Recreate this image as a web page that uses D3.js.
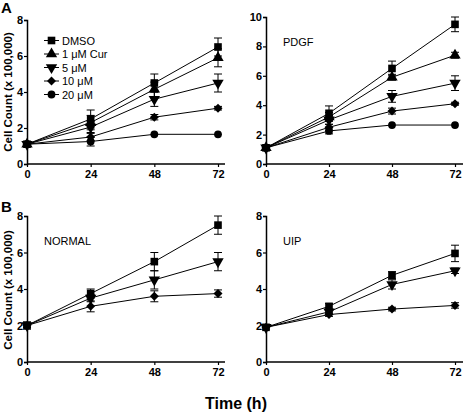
<!DOCTYPE html>
<html><head><meta charset="utf-8">
<script src="https://cdn.jsdelivr.net/npm/d3@7"></script>
<style>body{margin:0;background:#fff}svg{display:block}</style>
</head><body>
<script>
const hours = [0, 24, 48, 72];
const seriesNames = ["DMSO", "1 \u03BCM Cur", "5 \u03BCM", "10 \u03BCM", "20 \u03BCM"];
const seriesShapes = ["square", "triangle", "down", "diamond", "circle"];

// Panel A left (no label) – all 5 series
const ctrlMean = [[1.1,2.5,4.5,6.5],[1.1,2.3,4.15,5.9],[1.1,2.05,3.6,4.5],[1.1,1.5,2.6,3.1],[1.1,1.25,1.65,1.65]];
const ctrlErr  = [[0.1,0.5,0.5,0.5],[0.05,0.4,0.4,0.5],[0.05,0.3,0.4,0.5],[0.05,0.2,0.15,0.1],[0.05,0.25,0.05,0.05]];
// PDGF
const pdgfMean = [[1.1,3.45,6.5,9.5],[1.1,3.2,5.9,7.4],[1.1,3.0,4.6,5.5],[1.1,2.5,3.6,4.1],[1.1,2.25,2.65,2.65]];
const pdgfErr  = [[0.1,0.5,0.5,0.5],[0.05,0.3,0.2,0.2],[0.05,0.3,0.4,0.5],[0.05,0.2,0.2,0.1],[0.05,0.2,0.05,0.05]];
// NORMAL (DMSO, 5 µM, 10 µM)
const normalSeries = [0, 2, 3];
const normalMean = [[2.0,3.75,5.5,7.5],[2.0,3.5,4.5,5.5],[2.0,3.05,3.6,3.75]];
const normalErr  = [[0.2,0.25,0.5,0.5],[0.1,0.2,0.5,0.5],[0.1,0.3,0.3,0.2]];
// UIP (DMSO, 5 µM, 10 µM)
const uipSeries = [0, 2, 3];
const uipMean = [[1.9,3.05,4.75,5.95],[1.9,2.75,4.25,5.0],[1.9,2.6,2.9,3.1]];
const uipErr  = [[0.1,0.15,0.2,0.45],[0.05,0.1,0.25,0.15],[0.05,0.1,0.1,0.15]];

const yTicks8 = [0, 2, 4, 6, 8];
const yTicks10 = [0, 2, 4, 6, 8, 10];

const panels = [
  {label:null, series:[0,1,2,3,4], mean:ctrlMean, err:ctrlErr, ymax:8, ticks:yTicks8, x0:27, x1:218, xEnd:225, yB:164, yT:20, legend:true},
  {label:"PDGF", series:[0,1,2,3,4], mean:pdgfMean, err:pdgfErr, ymax:10, ticks:yTicks10, x0:266, x1:455, xEnd:463, yB:164, yT:17},
  {label:"NORMAL", series:normalSeries, mean:normalMean, err:normalErr, ymax:8, ticks:yTicks8, x0:27, x1:218, xEnd:225, yB:362, yT:216},
  {label:"UIP", series:uipSeries, mean:uipMean, err:uipErr, ymax:8, ticks:yTicks8, x0:266, x1:455, xEnd:463, yB:362, yT:216},
];

const W = 464, H = 412;
const svg = d3.select("body").append("svg").attr("width", W).attr("height", H)
  .style("font-family", "Liberation Sans, Arial, sans-serif");

const symType = {square:d3.symbolSquare, triangle:d3.symbolTriangle, down:d3.symbolTriangle, diamond:d3.symbolSquare, circle:d3.symbolCircle};
const symSize = {square:58, triangle:56, down:56, diamond:40, circle:48};
const symRot = {square:0, triangle:0, down:180, diamond:45, circle:0};
function marker(g, shape, x, y) {
  g.append("path").attr("d", d3.symbol().type(symType[shape]).size(symSize[shape])())
    .attr("fill", "#000")
    .attr("transform", `translate(${x},${y}) rotate(${symRot[shape]})`);
}

panels.forEach(p => {
  const x = d3.scaleLinear().domain([0, 72]).range([p.x0, p.x1]);
  const y = d3.scaleLinear().domain([0, p.ymax]).range([p.yB, p.yT]);
  const g = svg.append("g");

  const xa = g.append("g").attr("transform", `translate(0,${p.yB})`)
    .call(d3.axisBottom(x).tickValues(hours).tickSize(3).tickPadding(3));
  xa.select(".domain").attr("d", `M${p.x0},0H${p.xEnd}`);
  const ya = g.append("g").attr("transform", `translate(${p.x0},0)`)
    .call(d3.axisLeft(y).tickValues(p.ticks).tickSize(3).tickPadding(1));
  [xa, ya].forEach(a => {
    a.select(".domain").attr("stroke", "#000").attr("stroke-width", 1.5);
    a.selectAll(".tick line").attr("stroke", "#000").attr("stroke-width", 1.2);
    a.selectAll(".tick text").attr("fill", "#000").attr("font-size", 11).attr("font-weight", "bold")
      .attr("font-family", "Liberation Sans, Arial, sans-serif");
  });

  const line = d3.line().x((d, i) => x(hours[i])).y(d => y(d));
  p.series.forEach((s, k) => {
    const m = p.mean[k], e = p.err[k];
    g.append("path").attr("d", line(m)).attr("fill", "none").attr("stroke", "#000").attr("stroke-width", 1);
    m.forEach((v, i) => {
      const cx = x(hours[i]);
      if (e[i] > 0.08) {
        g.append("path").attr("d", `M${cx},${y(v - e[i])}V${y(v + e[i])}M${cx-4},${y(v + e[i])}H${cx+4}M${cx-4},${y(v - e[i])}H${cx+4}`)
          .attr("stroke", "#000").attr("stroke-width", 1).attr("fill", "none");
      }
      marker(g, seriesShapes[s], cx, y(v));
    });
  });

  if (p.label) {
    g.append("text").attr("x", p.x0 + 17).attr("y", p.yT + 29).attr("font-size", 11).text(p.label);
  }
  if (p.legend) {
    seriesNames.forEach((n, i) => {
      const ly = 40.5 + i * 13.5;
      g.append("line").attr("x1", 44).attr("x2", 59).attr("y1", ly).attr("y2", ly).attr("stroke", "#000").attr("stroke-width", 1);
      marker(g, seriesShapes[i], 51.5, ly);
      g.append("text").attr("x", 62).attr("y", ly + 4).attr("font-size", 11).text(n);
    });
  }
});

svg.append("text").attr("x", 1).attr("y", 13).attr("font-size", 15).attr("font-weight", "bold").text("A");
svg.append("text").attr("x", 1).attr("y", 212).attr("font-size", 15).attr("font-weight", "bold").text("B");
[92, 290].forEach(cy => {
  svg.append("text").attr("transform", `translate(12,${cy}) rotate(-90)`).attr("text-anchor", "middle")
    .attr("font-size", 11.5).attr("font-weight", "bold").text("Cell Count (x 100,000)");
});
svg.append("text").attr("x", 236).attr("y", 409).attr("text-anchor", "middle")
  .attr("font-size", 16).attr("font-weight", "bold").text("Time (h)");
</script>
</body></html>
